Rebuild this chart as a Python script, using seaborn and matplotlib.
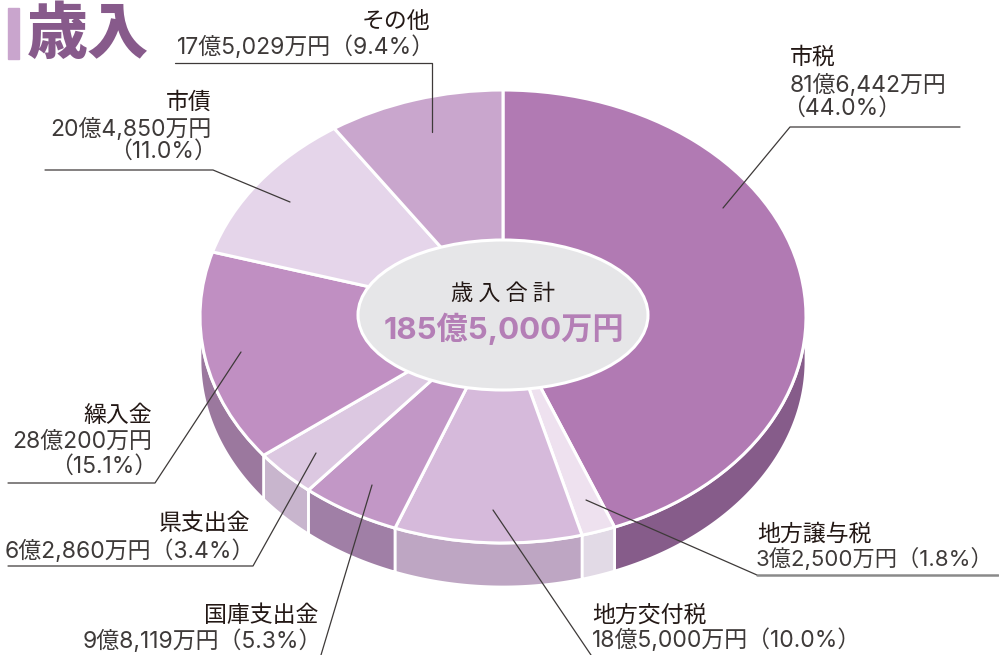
import numpy as np
import matplotlib
matplotlib.use("Agg")
import matplotlib.pyplot as plt
from matplotlib.patches import Ellipse, Rectangle
import seaborn as sns

sns.set_theme(style="white")
plt.rcParams['font.family'] = ['Noto Sans CJK JP', 'DejaVu Sans']

# data (clockwise from 12 o'clock)
categories = ["市税", "地方譲与税", "地方交付税", "国庫支出金", "県支出金", "繰入金", "市債", "その他"]
amounts = ["81億6,442万円", "3億2,500万円", "18億5,000万円", "9億8,119万円",
           "6億2,860万円", "28億200万円", "20億4,850万円", "17億5,029万円"]
shares = [44.0, 1.8, 10.0, 5.3, 3.4, 15.1, 11.0, 9.4]
total_title = "歳入合計"
total_amount = "185億5,000万円"

top_colors = ["#b17ab3", "#eee1ef", "#d6badb", "#c297c6", "#dcc8e1", "#c08fc2", "#e5d5ea", "#c9a6cd"]
side_colors = ["#865c8a", "#e2dae6", "#bea6c3", "#a07fa6", "#c8b5cd", "#9b789e", "#c8b5cd", "#a07fa6"]

W, H = 999, 655
cx, cy, rx, ry = 503, 316.5, 303, 226.5   # pixel geometry of the top face
depth = 44 / ry

fig = plt.figure(figsize=(W / 100, H / 100), dpi=100)

###############################################################################
# the pie itself, squashed into an ellipse by a non-equal aspect
pie_ax = fig.add_axes([0, 0, 1, 1])
wedges, _ = pie_ax.pie(shares, colors=top_colors, startangle=90, counterclock=False,
                       radius=1, wedgeprops=dict(edgecolor="white", linewidth=2.2, zorder=3))

# side walls for the front half of each wedge
for w, c in zip(wedges, side_colors):
    for k in (-360, 0, 360):
        lo = max(w.theta1, -180 + k)
        hi = min(w.theta2, 0 + k)
        if hi > lo:
            t = np.radians(np.linspace(lo, hi, 80))
            xs = np.concatenate([np.cos(t), np.cos(t[::-1])])
            ys = np.concatenate([np.sin(t), np.sin(t[::-1]) - depth])
            pie_ax.fill(xs, ys, color=c, ec="white", lw=2, zorder=1)

pie_ax.set_aspect("auto")
pie_ax.set_xlim(-cx / rx, (W - cx) / rx)
pie_ax.set_ylim(-(H - cy) / ry, cy / ry)
pie_ax.axis("off")

###############################################################################
# overlay in pixel coordinates for the labels
ax = fig.add_axes([0, 0, 1, 1], zorder=5)
ax.set_xlim(0, W)
ax.set_ylim(H, 0)
ax.axis("off")

num_font = ['Inter', 'Noto Sans CJK JP', 'DejaVu Sans']

ax.add_patch(Ellipse((503, 315), 290, 150, fc="#e6e6e8", ec="white", lw=2.2))
ax.text(503, 293, " ".join(total_title), ha="center", va="center", fontsize=16, color="#231815")
ax.text(504, 329, total_amount, ha="center", va="center", fontsize=22.5, fontweight="bold",
        color="#b47fb6", family=num_font)

# title
ax.add_patch(Rectangle((8, 8), 11, 51, color="#c9a5cd"))
ax.text(27, 35, "歳入", ha="left", va="center", fontsize=44, fontweight="heavy", color="#875a8b")

name_c, val_c, line_c = "#231815", "#3e3a39", "#3e3a39"
fs = 16.5
vs = 16.5
pct = [f"（{s:.1f}%）" for s in shares]


def value(x, y, s, ha, size=vs):
    ax.text(x, y, s, ha=ha, va="center", fontsize=size, color=val_c, family=num_font)


# 市税
ax.text(790, 57, categories[0], ha="left", va="center", fontsize=fs, color=name_c)
value(790, 85, amounts[0], "left")
value(782, 109, pct[0], "left")
ax.plot([723, 790, 960], [208, 127, 127], color=line_c, lw=0.9)

# 地方譲与税
ax.text(757, 534, categories[1], ha="left", va="center", fontsize=fs, color=name_c)
value(756, 558, amounts[1] + pct[1], "left", size=16)
ax.plot([586, 757], [500, 575], color=line_c, lw=0.9)
ax.plot([757, 998], [575, 575], color="#8a8a8a", lw=1.8)

# 地方交付税
ax.text(592, 615, categories[2], ha="left", va="center", fontsize=fs, color=name_c)
value(592, 640, amounts[2] + pct[2], "left")
ax.plot([493, 591], [510, 655], color=line_c, lw=0.9)

# 国庫支出金
ax.text(318, 615, categories[3], ha="right", va="center", fontsize=fs, color=name_c)
value(322, 641, amounts[3] + pct[3], "right")
ax.plot([372, 321], [485, 655], color=line_c, lw=0.9)

# 県支出金
ax.text(250, 524, categories[4], ha="right", va="center", fontsize=fs, color=name_c)
value(255, 551, amounts[4] + pct[4], "right")
ax.plot([8, 253, 316], [566, 566, 453], color=line_c, lw=0.9)

# 繰入金
ax.text(152, 415, categories[5], ha="right", va="center", fontsize=fs, color=name_c)
value(152, 442, amounts[5], "right")
value(157, 467, pct[5], "right")
ax.plot([8, 155, 241], [483, 483, 352], color=line_c, lw=0.9)

# 市債
ax.text(212, 102, categories[6], ha="right", va="center", fontsize=fs, color=name_c)
value(212, 129, amounts[6], "right")
value(217, 152, pct[6], "right")
ax.plot([45, 213, 290], [170, 170, 202], color=line_c, lw=0.9)

# その他
ax.text(430, 21, categories[7], ha="right", va="center", fontsize=fs, color=name_c)
value(435, 47, amounts[7] + pct[7], "right")
ax.plot([175, 432, 432], [63, 63, 132], color=line_c, lw=0.9)

fig.savefig("out.png", dpi=100)
